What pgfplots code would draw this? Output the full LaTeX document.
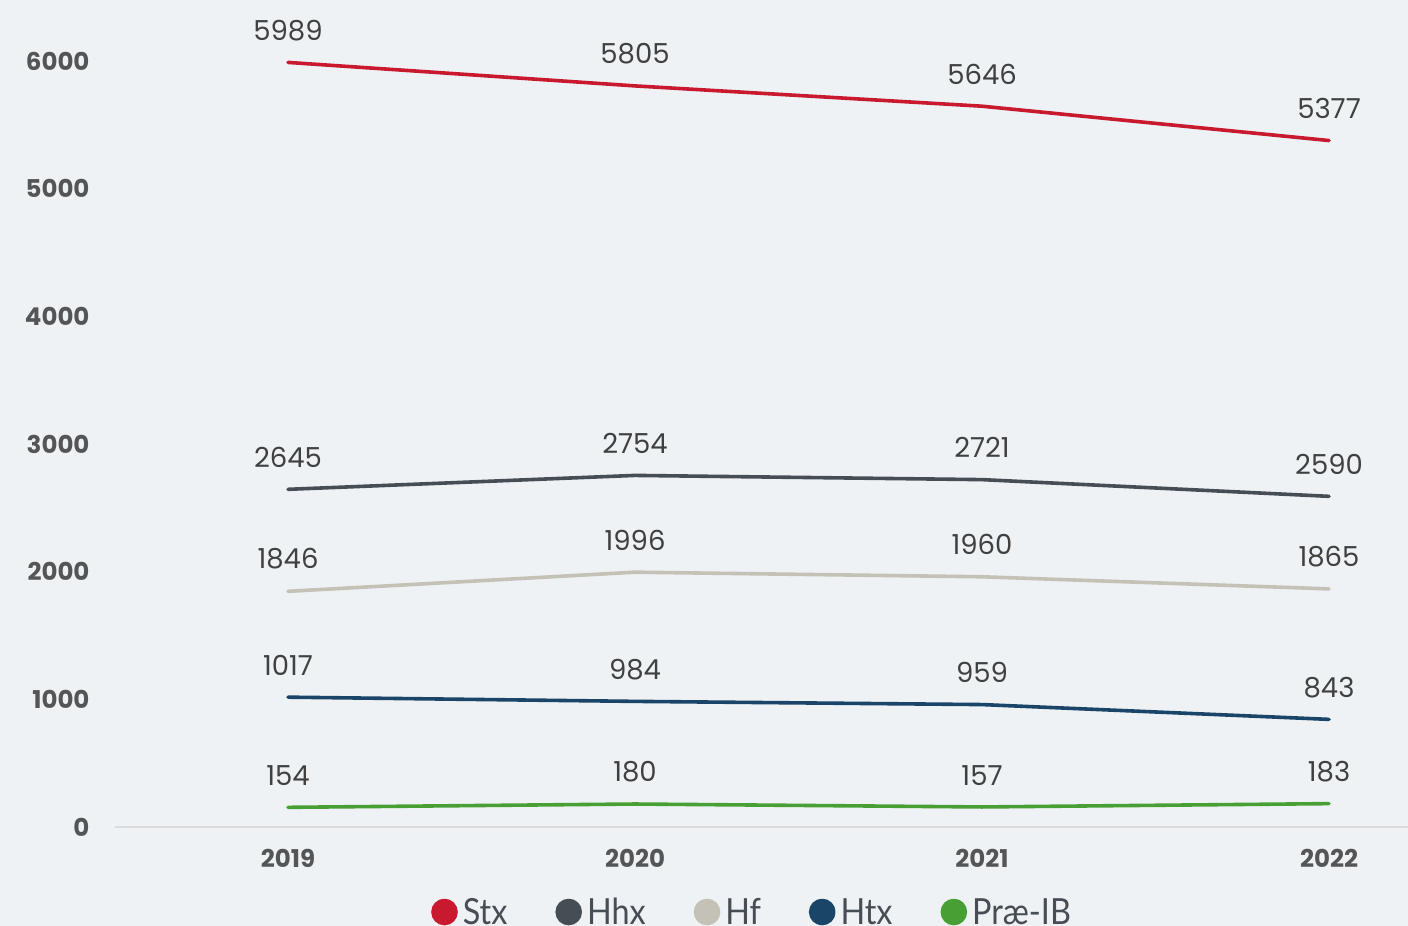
\documentclass[border=0pt]{standalone}
\usepackage{fontspec}
\setmainfont{Lato}
\newfontfamily\legfont[FakeStretch=0.9]{Lato}
\newfontfamily\popfont{Poppins}
\usepackage{pgfplots}
\pgfplotsset{compat=1.18}
\definecolor{bg}{HTML}{EEF2F5}
\definecolor{stx}{HTML}{C8192E}
\definecolor{hhx}{HTML}{474D54}
\definecolor{hf}{HTML}{C4C1B6}
\definecolor{htx}{HTML}{1A4468}
\definecolor{ib}{HTML}{48A035}
\definecolor{tick}{HTML}{555555}
\definecolor{lab}{HTML}{404040}
\begin{document}
\begin{tikzpicture}[x=1pt,y=1pt]
\fill[bg] (0,0) rectangle (1408,926);
\begin{axis}[
  at={(115pt,99pt)}, anchor=south west,
  scale only axis, width=1293pt, height=827pt,
  xmin=-0.4986, xmax=3.2277, ymin=0, ymax=6478,
  xtick={0,1,2,3}, xticklabels={2019,2020,2021,2022},
  ytick={0,1000,2000,3000,4000,5000,6000},
  axis x line*=bottom, axis y line*=left,
  axis line style={-},
  x axis line style={draw=black!14, line width=1.5pt},
  y axis line style={draw=none},
  major tick length=0pt,
  /pgf/number format/1000 sep={},
  /pgf/number format/assume math mode=true,
  ticklabel style={font=\popfont\fontsize{24.5}{29}\selectfont\bfseries, text=tick},
  yticklabel style={anchor=east, xshift=-22pt},
  xticklabel style={anchor=north, yshift=-19pt},
  every axis plot/.append style={line width=3.6pt, line join=round, line cap=round},
  nodes near coords,
  nodes near coords style={font=\popfont\fontsize{27.5}{32}\selectfont, text=lab, anchor=south, inner sep=0pt, yshift=20pt},
  legend image code/.code={\fill[#1] (11.5pt,0pt) circle (11.5pt);},
  legend style={at={(0.4927,-0.1028)}, anchor=center, draw=none, fill=none,
    font=\legfont\fontsize{36}{40}\selectfont, text=hhx, legend columns=-1,
    /tikz/every odd column/.append style={column sep=3pt},
    /tikz/every even column/.append style={column sep=46pt}},
  legend cell align=left,
]
\addplot[color=stx] coordinates {(0,5989) (1,5805) (2,5646) (3,5377)};
\addplot[color=hhx] coordinates {(0,2645) (1,2754) (2,2721) (3,2590)};
\addplot[color=hf] coordinates {(0,1846) (1,1996) (2,1960) (3,1865)};
\addplot[color=htx] coordinates {(0,1017) (1,984) (2,959) (3,843)};
\addplot[color=ib] coordinates {(0,154) (1,180) (2,157) (3,183)};
\legend{Stx,Hhx,Hf,Htx,Præ-IB}
\end{axis}
\pgfresetboundingbox
\useasboundingbox (0,0) rectangle (1408,926);
\end{tikzpicture}
\end{document}
